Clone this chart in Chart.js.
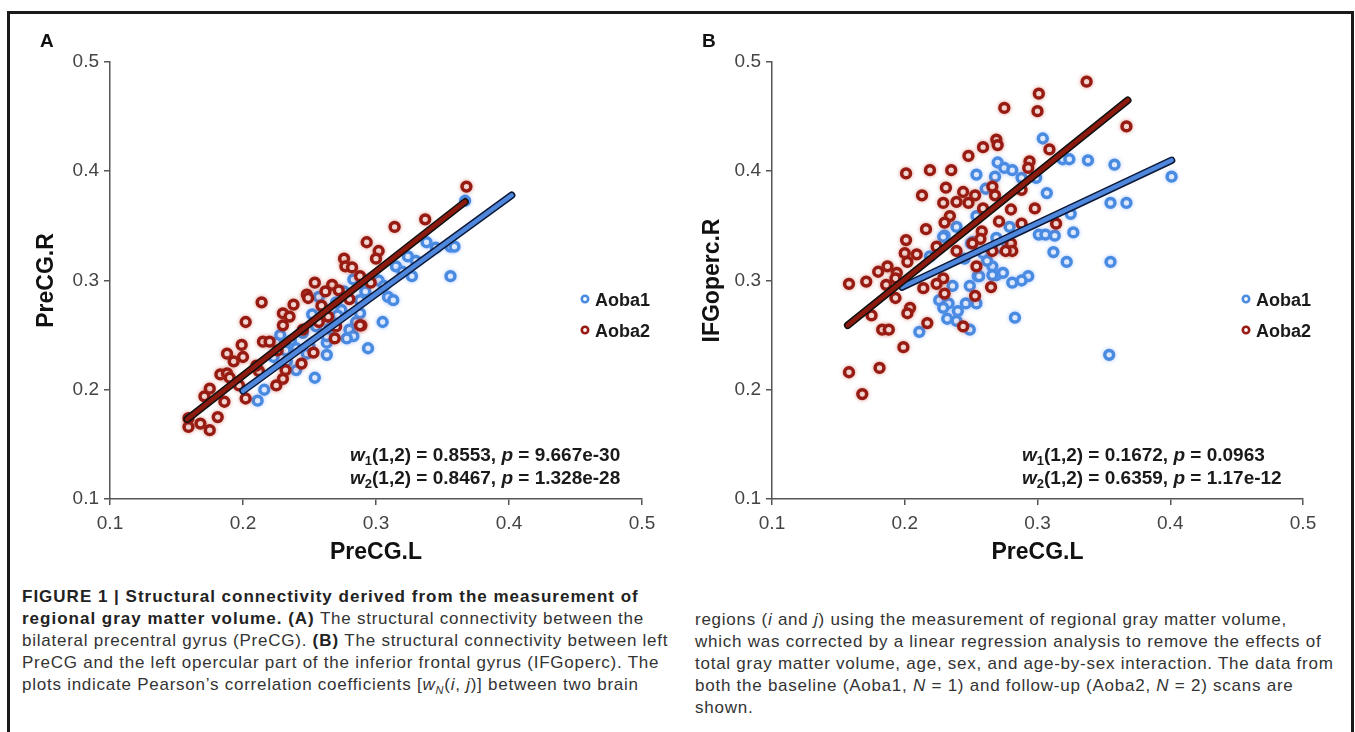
<!DOCTYPE html>
<html>
<head>
<meta charset="utf-8">
<script src="https://cdn.jsdelivr.net/npm/chart.js@4.4.0/dist/chart.umd.min.js"></script>
<style>
  html, body { margin: 0; padding: 0; background: #fff; }
  body { width: 1355px; height: 732px; position: relative; overflow: hidden; font-family: "Liberation Sans", Arial, sans-serif; }
  .frame { position: absolute; left: 7px; top: 11px; width: 1341px; height: 800px; border: 3px solid #1a1a1a; }
  canvas { position: absolute; top: 0; }
  #chartA { left: 0; }
  #chartB { left: 680px; }
  .panel-label { position: absolute; top: 31px; font-weight: bold; font-size: 19px; line-height: 19px; color: #111; }
  .caption { position: absolute; font-size: 17px; letter-spacing: 0.75px; line-height: 22px; color: #333; white-space: nowrap; }
  .caption b { color: #222; letter-spacing: 1px; }
</style>
</head>
<body>
<div class="frame"></div>
<canvas id="chartA" width="680" height="580"></canvas>
<canvas id="chartB" width="675" height="580"></canvas>
<div class="panel-label" style="left:40px">A</div>
<div class="panel-label" style="left:702px">B</div>

<div class="caption" style="left:22px; top:586px">
<b>FIGURE 1 | Structural connectivity derived from the measurement of</b><br>
<b>regional gray matter volume. (A)</b> The structural connectivity between the<br>
bilateral precentral gyrus (PreCG). <b>(B)</b> The structural connectivity between left<br>
PreCG and the left opercular part of the inferior frontal gyrus (IFGoperc). The<br>
plots indicate Pearson’s correlation coefficients [<i>w<sub style="font-size:11px">N</sub></i>(<i>i</i>, <i>j</i>)] between two brain
</div>
<div class="caption" style="left:695px; top:609px">
regions (<i>i</i> and <i>j</i>) using the measurement of regional gray matter volume,<br>
which was corrected by a linear regression analysis to remove the effects of<br>
total gray matter volume, age, sex, and age-by-sex interaction. The data from<br>
both the baseline (Aoba1, <i>N</i> = 1) and follow-up (Aoba2, <i>N</i> = 2) scans are<br>
shown.
</div>

<script>
// shared axis ticks
const tickValues = [0.1, 0.2, 0.3, 0.4, 0.5];
const seriesNames = ["Aoba1", "Aoba2"];

// Panel A: PreCG.L vs PreCG.R
const panelA_aoba1 = [
  [0.367,0.373],[0.338,0.335],[0.356,0.331],[0.359,0.331],[0.356,0.304],[0.324,0.322],[0.327,0.304],
  [0.309,0.285],[0.313,0.282],[0.305,0.262],[0.294,0.238],[0.283,0.301],[0.288,0.270],[0.280,0.255],
  [0.283,0.249],[0.278,0.247],[0.263,0.243],[0.263,0.232],[0.254,0.211],[0.255,0.258],[0.252,0.269],
  [0.257,0.285],[0.240,0.218],[0.233,0.226],[0.228,0.250],[0.225,0.243],[0.216,0.200],[0.211,0.190],
  [0.274,0.273],[0.271,0.268],[0.263,0.249],[0.248,0.233],[0.240,0.238],[0.268,0.261],[0.223,0.230],
  [0.288,0.282],[0.298,0.301],[0.315,0.313],[0.320,0.308],[0.330,0.318],[0.345,0.330],[0.236,0.245],
  [0.245,0.252],[0.260,0.275],[0.276,0.290],[0.292,0.290],[0.270,0.280],[0.250,0.240],[0.302,0.300],
  [0.232,0.236],[0.285,0.262],[0.265,0.256],[0.306,0.295]
];
const panelA_aoba2 = [
  [0.368,0.386],[0.337,0.356],[0.314,0.349],[0.293,0.335],[0.302,0.327],[0.300,0.320],[0.276,0.320],
  [0.277,0.313],[0.282,0.312],[0.288,0.304],[0.296,0.298],[0.289,0.259],[0.267,0.296],[0.272,0.291],
  [0.248,0.287],[0.249,0.284],[0.214,0.280],[0.238,0.278],[0.230,0.270],[0.235,0.267],[0.230,0.259],
  [0.202,0.262],[0.259,0.277],[0.264,0.267],[0.270,0.258],[0.288,0.259],[0.269,0.247],[0.215,0.244],
  [0.220,0.244],[0.199,0.241],[0.188,0.233],[0.193,0.226],[0.200,0.230],[0.253,0.234],[0.244,0.224],
  [0.232,0.218],[0.230,0.210],[0.225,0.204],[0.212,0.217],[0.183,0.214],[0.188,0.215],[0.190,0.211],
  [0.175,0.201],[0.171,0.194],[0.186,0.189],[0.202,0.192],[0.181,0.175],[0.168,0.169],[0.159,0.166],
  [0.175,0.163],[0.159,0.174],[0.254,0.298],[0.262,0.290],[0.245,0.255],[0.226,0.236],[0.210,0.222],
  [0.280,0.283],[0.197,0.204],[0.257,0.262]
];
const panelA_fit1 = [[0.200,0.199],[0.402,0.378]];
const panelA_fit2 = [[0.158,0.173],[0.367,0.372]];
const panelA_w = ["0.8553", "0.8467"];
const panelA_p = ["9.667e-30", "1.328e-28"];

// Panel B: PreCG.L vs IFGoperc.R
const panelB_aoba1 = [
  [0.304,0.430],[0.270,0.408],[0.275,0.403],[0.281,0.401],[0.254,0.397],[0.268,0.395],[0.288,0.394],
  [0.299,0.394],[0.319,0.411],[0.324,0.411],[0.338,0.410],[0.358,0.406],[0.401,0.395],[0.307,0.380],
  [0.261,0.384],[0.355,0.371],[0.367,0.371],[0.325,0.361],[0.327,0.344],[0.301,0.342],[0.306,0.342],
  [0.313,0.341],[0.239,0.349],[0.254,0.359],[0.230,0.341],[0.250,0.334],[0.269,0.339],[0.279,0.349],
  [0.312,0.326],[0.322,0.317],[0.355,0.317],[0.293,0.304],[0.288,0.300],[0.281,0.298],[0.266,0.313],
  [0.269,0.305],[0.274,0.307],[0.255,0.304],[0.236,0.295],[0.249,0.295],[0.226,0.282],[0.233,0.279],
  [0.229,0.275],[0.246,0.279],[0.254,0.279],[0.240,0.272],[0.232,0.265],[0.249,0.255],[0.211,0.253],
  [0.283,0.266],[0.354,0.232],[0.239,0.263],[0.259,0.325],[0.219,0.322],[0.229,0.340],[0.251,0.335],
  [0.256,0.304],[0.266,0.305],[0.262,0.318],[0.272,0.330],[0.245,0.320]
];
const panelB_aoba2 = [
  [0.337,0.482],[0.301,0.471],[0.300,0.455],[0.275,0.458],[0.367,0.441],[0.269,0.429],[0.270,0.424],
  [0.259,0.422],[0.248,0.414],[0.309,0.420],[0.294,0.409],[0.293,0.403],[0.201,0.398],[0.219,0.401],
  [0.235,0.401],[0.231,0.385],[0.213,0.378],[0.229,0.371],[0.239,0.372],[0.244,0.381],[0.253,0.378],
  [0.248,0.371],[0.266,0.386],[0.268,0.378],[0.298,0.366],[0.280,0.365],[0.259,0.366],[0.234,0.359],
  [0.230,0.353],[0.216,0.347],[0.201,0.337],[0.314,0.352],[0.288,0.352],[0.271,0.354],[0.258,0.345],
  [0.257,0.338],[0.280,0.334],[0.281,0.327],[0.266,0.327],[0.276,0.327],[0.251,0.334],[0.224,0.331],
  [0.239,0.327],[0.209,0.324],[0.200,0.325],[0.202,0.317],[0.187,0.313],[0.180,0.308],[0.194,0.307],
  [0.186,0.296],[0.171,0.299],[0.158,0.297],[0.229,0.302],[0.224,0.297],[0.254,0.313],[0.214,0.293],
  [0.230,0.288],[0.193,0.284],[0.265,0.294],[0.253,0.286],[0.204,0.275],[0.202,0.270],[0.175,0.268],
  [0.217,0.261],[0.244,0.258],[0.183,0.255],[0.188,0.255],[0.199,0.239],[0.181,0.220],[0.158,0.216],
  [0.168,0.196],[0.193,0.302],[0.288,0.383]
];
const panelB_fit1 = [[0.198,0.294],[0.401,0.410]];
const panelB_fit2 = [[0.157,0.259],[0.368,0.465]];
const panelB_w = ["0.1672", "0.6359"];
const panelB_p = ["0.0963", "1.17e-12"];

const blueMark = "#4a8be2";
const redMark = "#971b12";
const blueLine = "#4f87dc";
const redLine = "#8c1a0e";
const lineEdge = "#111";
const fontFamily = '"Liberation Sans", Arial, sans-serif';

// legend + correlation text drawn inside the plot area
const overlay = {
  id: "overlay",
  beforeDatasetDraw(chart, args) {
    const ds = chart.data.datasets[args.index];
    chart.ctx.save();
    if (ds.halo) {
      chart.ctx.shadowColor = ds.halo;
      chart.ctx.shadowBlur = 4;
    }
  },
  afterDatasetDraw(chart) {
    chart.ctx.restore();
  },
  afterDatasetsDraw(chart, args, opts) {
    const ctx = chart.ctx;
    const area = chart.chartArea;
    ctx.save();
    ctx.textBaseline = "alphabetic";
    ctx.textAlign = "left";

    [blueMark, redMark].forEach((col, i) => {
      const cx = area.right - 57;
      const cy = area.top + 237 + i * 31;
      ctx.beginPath();
      ctx.arc(cx, cy, 3.2, 0, Math.PI * 2);
      ctx.fillStyle = "#fff";
      ctx.fill();
      ctx.lineWidth = 2.6;
      ctx.strokeStyle = col;
      ctx.stroke();
      ctx.fillStyle = "#1a1a1a";
      ctx.font = "bold 18px " + fontFamily;
      ctx.fillText(seriesNames[i], cx + 10, cy + 7);
    });

    opts.w.forEach((wv, i) => {
      let x = area.left + opts.left;
      const y = area.bottom - 38 + i * 23;
      const parts = [
        { t: "w", f: "italic bold 19px ", dy: 0 },
        { t: String(i + 1), f: "bold 13px ", dy: 4 },
        { t: "(1,2) = " + wv + ", ", f: "bold 19px ", dy: 0 },
        { t: "p", f: "italic bold 19px ", dy: 0 },
        { t: " = " + opts.p[i], f: "bold 19px ", dy: 0 }
      ];
      ctx.fillStyle = "#1a1a1a";
      parts.forEach(pt => {
        ctx.font = pt.f + fontFamily;
        ctx.fillText(pt.t, x, y + pt.dy);
        x += ctx.measureText(pt.t).width;
      });
    });
    ctx.restore();
  }
};

function axis(title, fitSize, horizontal) {
  return {
    type: "linear",
    min: 0.1,
    max: 0.5,
    afterBuildTicks: s => { s.ticks = tickValues.map(v => ({ value: v })); },
    afterFit: s => { if (horizontal) s.height = fitSize; else s.width = fitSize; },
    ticks: {
      callback: v => v.toFixed(1),
      color: "#444",
      font: { family: fontFamily, size: 19 },
      padding: horizontal ? 7 : 5,
      autoSkip: false,
      maxRotation: 0
    },
    grid: { display: true, drawOnChartArea: false, drawTicks: true, tickLength: 6, color: "#555", lineWidth: 1.5 },
    border: { display: true, color: "#555", width: 1.5 },
    title: {
      display: true,
      text: title,
      color: "#111",
      font: { family: fontFamily, size: 23, weight: "bold" },
      padding: 0
    }
  };
}

function buildPanel(id, aoba1, aoba2, fit1, fit2, yTitle, yWidth, pad, w, p, statsLeft) {
  const xy = arr => arr.map(d => ({ x: d[0], y: d[1] }));
  const fitLine = (data, col, width, order) => ({
    data: xy(data), showLine: true, borderColor: col, borderWidth: width,
    borderCapStyle: "round", pointRadius: 0, order: order
  });
  const points = (data, col, halo, order, label) => ({
    label: label, data: xy(data), showLine: false, halo: halo,
    pointRadius: 4.4, pointBorderWidth: 3.5, pointBorderColor: col, pointBackgroundColor: "#fff",
    borderColor: col, backgroundColor: "#fff", order: order
  });
  return new Chart(document.getElementById(id), {
    type: "scatter",
    data: {
      datasets: [
        fitLine(fit2, redLine, 4.5, 0),
        fitLine(fit2, lineEdge, 7.5, 1),
        fitLine(fit1, blueLine, 4.5, 2),
        fitLine(fit1, "#0b1838", 7.5, 3),
        points(aoba2, redMark, "rgba(190,70,50,0.45)", 4, seriesNames[1]),
        points(aoba1, blueMark, "rgba(110,160,255,0.45)", 5, seriesNames[0])
      ]
    },
    options: {
      responsive: false,
      animation: false,
      layout: { padding: pad },
      plugins: {
        legend: { display: false },
        tooltip: { enabled: false },
        overlay: { w: w, p: p, left: statsLeft }
      },
      scales: {
        x: axis("PreCG.L", 67, true),
        y: axis(yTitle, yWidth, false)
      }
    },
    plugins: [overlay]
  });
}

buildPanel("chartA", panelA_aoba1, panelA_aoba2, panelA_fit1, panelA_fit2, "PreCG.R", 77,
  { left: 33, top: 62, right: 38, bottom: 14 }, panelA_w, panelA_p, 240);
buildPanel("chartB", panelB_aoba1, panelB_aoba2, panelB_fit1, panelB_fit2, "IFGoperc.R", 73,
  { left: 19, top: 62, right: 52, bottom: 14 }, panelB_w, panelB_p, 250);
</script>
</body>
</html>
